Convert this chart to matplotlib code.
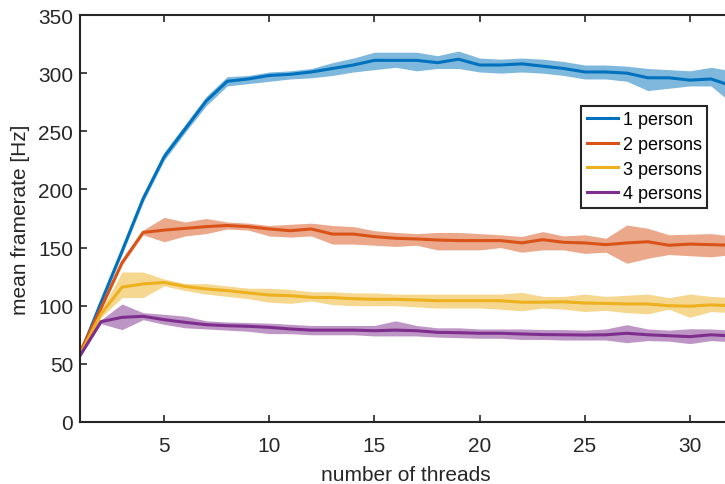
import numpy as np
import matplotlib
matplotlib.use("Agg")
import matplotlib.pyplot as plt

plt.rcParams['font.family'] = ['Liberation Sans', 'DejaVu Sans']

threads = np.arange(1, 33)

p1_mean = [58, 103, 147, 192, 228, 252, 276, 293, 295, 298, 299, 301, 304, 307, 311, 311,
           311, 309, 312, 307, 307, 308, 306, 304, 301, 301, 300, 296, 296, 294, 295, 289]
p1_hi = [59, 105, 150, 195, 232, 256, 280, 297, 298, 301, 302, 304, 309, 313, 318, 318,
         318, 315, 319, 313, 312, 313, 312, 310, 307, 307, 306, 304, 303, 302, 305, 302]
p1_lo = [57, 101, 144, 189, 225, 249, 272, 289, 291, 293, 295, 296, 298, 301, 303, 305,
         302, 304, 304, 301, 300, 301, 300, 298, 295, 295, 293, 285, 287, 289, 289, 274]

p2_mean = [60, 98, 137, 163, 165, 166.5, 168, 169, 168, 166, 164.5, 166, 161.6, 161.6, 159.4, 158,
           157.4, 156.5, 156, 156, 156, 154, 156.8, 154.5, 154, 152.5, 154, 155, 152, 153, 152.5, 152]
p2_hi = [61, 100, 139, 165, 176, 172, 175, 172, 171, 169, 170, 171, 169, 168, 164.5, 163,
         162, 163, 163, 162, 161, 159.5, 163.7, 160, 161, 158, 169.4, 166.6, 161, 161.5, 162, 160]
p2_lo = [59, 96, 135, 161, 155, 160, 162, 166, 165, 160, 159, 160, 153, 153, 152, 151,
         152, 148, 148, 148, 150, 146, 148, 148, 145, 146, 136.5, 140.8, 144, 143, 142, 144]

p3_mean = [58, 93, 116, 118.7, 120, 116.6, 114.4, 113, 111, 109.2, 108.6, 107.2, 107, 106, 105.5, 105.5,
           105, 104.3, 104.3, 104.3, 104.3, 103, 103, 103.4, 102.3, 102, 101.5, 101.5, 100, 99.6, 100.7, 100]
p3_hi = [59, 96, 129, 129, 123, 119, 119, 117, 115, 115, 114, 112, 112, 111, 111, 110,
         110, 110, 110, 110, 110, 111.5, 108, 108, 110, 108, 109, 110, 107, 110, 108, 107]
p3_lo = [57, 90, 107, 107, 117, 113, 110, 108, 106, 103, 102, 104, 101, 100, 100, 100,
         99, 98, 98, 98, 97, 95.6, 98, 97, 95, 96, 94, 93, 97, 90, 95, 94]

p4_mean = [57, 86.3, 90, 90.9, 88, 85.7, 83.7, 82.8, 82.3, 81.4, 80, 79, 79, 79, 78.5, 79,
           78.5, 77.1, 76.8, 76.3, 76.3, 75.7, 75.2, 75, 74.8, 75, 76.3, 75, 74.2, 73.4, 75, 74]
p4_hi = [58, 88, 101.5, 94, 92.6, 91, 87, 86, 85.5, 85, 84, 83, 83, 83, 83, 87,
         83, 81, 81, 80, 80, 80, 79.5, 79.5, 79, 80, 83.7, 80, 79, 80.2, 80, 79]
p4_lo = [56, 84.5, 79.4, 88, 84, 81, 80, 79, 78, 76, 76, 75, 75, 75, 74, 74,
         74, 73, 72.5, 72, 72, 71, 71, 70.5, 70.5, 70.5, 68.2, 70, 69.5, 67.4, 70, 69]

labels = ["1 person", "2 persons", "3 persons", "4 persons"]
colors = ["#0072BD", "#D95319", "#EDB120", "#7E2F8E"]

series = [(p1_mean, p1_lo, p1_hi), (p2_mean, p2_lo, p2_hi),
          (p3_mean, p3_lo, p3_hi), (p4_mean, p4_lo, p4_hi)]

fig = plt.figure(figsize=(7.25, 4.85), dpi=100)
# axes runs a bit past the right edge, like the cropped original
ax = fig.add_axes([80 / 725, 62 / 485, 652 / 725, 407 / 485])

for (m, lo, hi), c in zip(series, colors):
    ax.fill_between(threads, lo, hi, color=c, alpha=0.5, linewidth=0)
for (m, lo, hi), c, lab in zip(series, colors, labels):
    ax.plot(threads, m, color=c, lw=2.2, label=lab)

ax.set_xlim(1, 32)
ax.set_ylim(0, 350)
ax.set_xticks([5, 10, 15, 20, 25, 30])
ax.set_yticks(np.arange(0, 351, 50))

ink = "#262626"
for s in ax.spines.values():
    s.set_linewidth(1.5)
    s.set_color(ink)
ax.tick_params(direction="in", length=5, width=1.2, colors=ink, labelsize=15,
               top=True, right=True)
ax.tick_params(axis="x", pad=10)
ax.tick_params(axis="y", pad=5)

ax.set_xlabel("number of threads", fontsize=15, color=ink, labelpad=7)
ax.set_ylabel("mean framerate [Hz]", fontsize=15, color=ink, labelpad=6)

leg = ax.legend(loc="upper right", bbox_to_anchor=(0.9617, 0.7764), borderaxespad=0,
                fontsize=13, fancybox=False, handlelength=1.75, handletextpad=0.25,
                labelspacing=0.42, borderpad=0.3, framealpha=1)
leg.get_frame().set_edgecolor(ink)
leg.get_frame().set_linewidth(1.5)

fig.savefig("out.png", dpi=100)
